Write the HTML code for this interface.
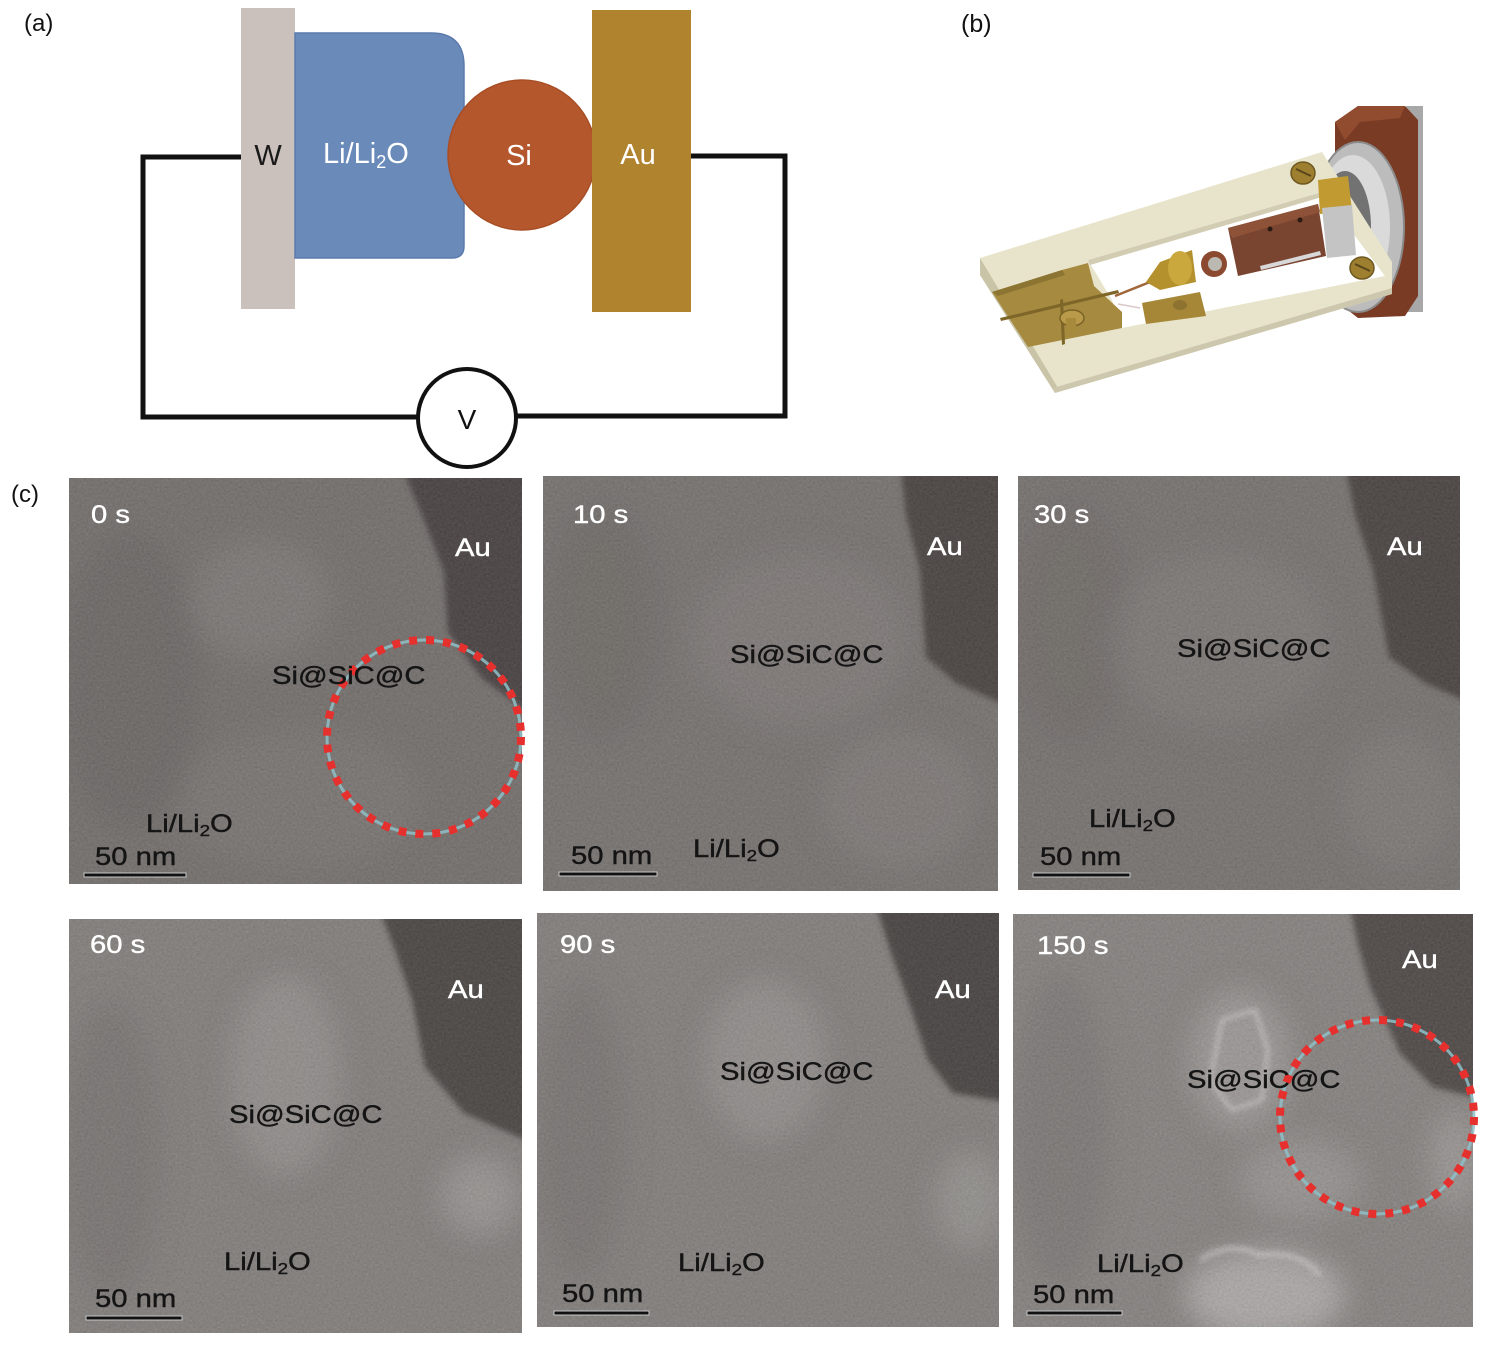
<!DOCTYPE html>
<html><head><meta charset="utf-8"><style>
html,body{margin:0;padding:0;background:#fff;}
svg{display:block;}
text{font-family:"Liberation Sans",Arial,sans-serif;}
.tw{fill:#fff;stroke:#fff;stroke-width:0.4;}
.tb{fill:#141414;stroke:#141414;stroke-width:0.4;}
</style></head><body>
<svg width="1485" height="1346" viewBox="0 0 1485 1346" xmlns="http://www.w3.org/2000/svg">
<defs>
<filter id="b3" x="-20%" y="-20%" width="140%" height="140%"><feGaussianBlur stdDeviation="3"/></filter>
<filter id="b14" x="-60%" y="-60%" width="220%" height="220%"><feGaussianBlur stdDeviation="14"/></filter>
<filter id="nz" x="0" y="0" width="100%" height="100%" color-interpolation-filters="sRGB"><feTurbulence type="fractalNoise" baseFrequency="0.45" numOctaves="3" seed="4"/><feColorMatrix type="matrix" values="0.33 0.33 0.33 0 0  0.33 0.33 0.33 0 0  0.33 0.33 0.33 0 0  0 0 0 0 0.16"/></filter>
</defs>

<!-- ===== (a) ===== -->
<text x="24" y="31" font-size="24" fill="#111">(a)</text>
<path d="M243 157 H143 V417 H420 M516 416 H785 V156 H690" fill="none" stroke="#111" stroke-width="5" stroke-linejoin="miter"/>
<rect x="241" y="8" width="54" height="301" fill="#cac0bc"/>
<path d="M295 33 H431 Q464 33 464 66 V246 Q464 258 452 258 H295 Z" fill="#6a8bba" stroke="#5a7aab" stroke-width="1.5"/>
<ellipse cx="522" cy="155" rx="74" ry="75" fill="#b4572c" stroke="#a84e26" stroke-width="1.5"/>
<rect x="592" y="10" width="99" height="302" fill="#b0832f"/>
<circle cx="467" cy="418" r="49" fill="#fff" stroke="#111" stroke-width="4"/>
<text x="268" y="165" font-size="29" fill="#1a1a1a" text-anchor="middle">W</text>
<text x="323" y="163" font-size="29" fill="#fff">Li/Li<tspan font-size="18" dy="5">2</tspan><tspan dy="-5">O</tspan></text>
<text x="519" y="165" font-size="29" fill="#fff" text-anchor="middle">Si</text>
<text x="638" y="164" font-size="29" fill="#fff" text-anchor="middle">Au</text>
<text x="467" y="429" font-size="28" fill="#111" text-anchor="middle">V</text>

<!-- ===== (b) ===== -->
<text x="961" y="32" font-size="25" fill="#111">(b)</text>
<g>
<rect x="1406" y="106" width="17" height="206" fill="#a8a8a8"/>
<polygon points="1335,122 1358,106 1405,106 1418,120 1418,296 1405,316 1358,318 1335,300" fill="#7a3b24"/>
<polygon points="1335,122 1358,106 1405,106 1400,118 1360,122 1345,140" fill="#914b2f"/>
<ellipse cx="1358" cy="227" rx="46" ry="85" fill="#bcbcbc" stroke="#8a8a8a" stroke-width="2"/>
<ellipse cx="1353" cy="227" rx="37" ry="72" fill="#dadada"/>
<ellipse cx="1345" cy="227" rx="26" ry="56" fill="#727272"/>
<polygon points="980,258 1322,152 1392,262 1392,294 1055,393 980,275" fill="#e8e4cb"/>
<polygon points="980,258 980,275 1055,393 1058,388 986,268" fill="#c9c4a8"/>
<polygon points="1055,393 1392,294 1392,288 1053,388" fill="#cdc8ad"/>
<polygon points="1088,260 1322,192 1385,276 1122,328 1112,300" fill="#ffffff"/>
<polygon points="1088,260 1322,192 1322,197 1090,265" fill="#d2cdb2"/>
<polygon points="992,292 1062,270 1088,263 1094,286 1122,312 1122,328 1028,347" fill="#a58a3f"/>
<polygon points="992,292 1062,270 1065,275 998,296" fill="#8c7432"/>
<polygon points="1000,318 1118,290 1119,293 1001,321" fill="#7d6628"/>
<polygon points="1060,300 1062,345 1065,344 1063,299" fill="#7d6628"/>
<ellipse cx="1072" cy="318" rx="12" ry="8" fill="#b89a4a" stroke="#7a6226" stroke-width="1.5"/>
<rect x="1066" y="318" width="10" height="14" fill="#a88a3c"/>
<polygon points="1142,303 1200,292 1206,316 1146,324" fill="#a68737"/>
<ellipse cx="1180" cy="305" rx="7" ry="5" fill="#8d7230"/>
<line x1="1115" y1="296" x2="1150" y2="282" stroke="#a0683a" stroke-width="2.5"/>
<line x1="1118" y1="304" x2="1140" y2="308" stroke="#d8c8c8" stroke-width="1.5"/>
<polygon points="1146,282 1160,262 1192,250 1196,282 1160,290" fill="#b5912e"/>
<ellipse cx="1180" cy="268" rx="12" ry="17" fill="#cba83e"/>
<circle cx="1214" cy="264" r="13" fill="#8b4a30"/>
<circle cx="1215" cy="264" r="7" fill="#bcb8b2"/>
<polygon points="1318,180 1348,176 1352,211 1320,214" fill="#c19b32"/>
<polygon points="1322,208 1352,205 1356,255 1327,258" fill="#c4c4c4"/>
<polygon points="1228,228 1318,204 1326,256 1238,276" fill="#7a4530"/>
<polygon points="1228,228 1318,204 1320,212 1232,238" fill="#8d5238"/>
<circle cx="1270" cy="229" r="2.5" fill="#2a1a12"/>
<circle cx="1300" cy="220" r="2.5" fill="#2a1a12"/>
<polygon points="1260,266 1320,251 1321,255 1261,270" fill="#d8d8d8"/>
<ellipse cx="1303" cy="173" rx="12" ry="11" fill="#9d7f2f" stroke="#6e5820" stroke-width="1.5"/>
<line x1="1296" y1="169" x2="1311" y2="176" stroke="#5a461a" stroke-width="2"/>
<ellipse cx="1362" cy="268" rx="12" ry="11" fill="#9d7f2f" stroke="#6e5820" stroke-width="1.5"/>
<line x1="1355" y1="264" x2="1370" y2="271" stroke="#5a461a" stroke-width="2"/>
</g>

<!-- ===== (c) ===== -->
<text x="11" y="502" font-size="24" fill="#111">(c)</text>

<!-- Panel 1 -->
<svg x="69" y="478" width="453" height="406" viewBox="69 478 453 406">
<rect x="69" y="478" width="453" height="406" fill="#76716e"/>
<g filter="url(#b14)">
<ellipse cx="130" cy="680" rx="70" ry="150" fill="#6b6664" opacity="0.7"/>
<ellipse cx="260" cy="600" rx="70" ry="60" fill="#8c8785" opacity="0.45"/>
<ellipse cx="300" cy="800" rx="120" ry="70" fill="#84807d" opacity="0.4"/>
</g>
<polygon points="403,470 530,470 530,714 482,678 448,632 444,572 424,520" fill="#474140" filter="url(#b3)"/>
<rect x="69" y="478" width="453" height="406" filter="url(#nz)"/>
</svg>
<circle cx="424" cy="737" r="97" fill="none" stroke="#8fbfc8" stroke-width="3" opacity="0.85"/>
<circle cx="424" cy="737" r="97" fill="none" stroke="#e6302d" stroke-width="8" stroke-dasharray="8 9"/>
<text class="tw" transform="translate(91,523) scale(1.17,1)" font-size="25">0 s</text>
<text class="tw" transform="translate(455,556) scale(1.17,1)" font-size="25">Au</text>
<text class="tb" transform="translate(272,684) scale(1.17,1)" font-size="25">Si@SiC@C</text>
<text class="tb" transform="translate(146,832) scale(1.17,1)" font-size="25">Li/Li<tspan font-size="16" dy="4">2</tspan><tspan dy="-4">O</tspan></text>
<text class="tb" transform="translate(95,865) scale(1.17,1)" font-size="25">50 nm</text>
<rect x="84" y="873" width="102" height="4" fill="#111" stroke="#c8c8c8" stroke-width="1"/>

<!-- Panel 2 -->
<svg x="543" y="476" width="455" height="415" viewBox="543 476 455 415">
<rect x="543" y="476" width="455" height="415" fill="#7a7572"/>
<g filter="url(#b14)">
<ellipse cx="600" cy="620" rx="60" ry="120" fill="#6e6967" opacity="0.6"/>
<ellipse cx="800" cy="640" rx="110" ry="90" fill="#8b8684" opacity="0.45"/>
<ellipse cx="900" cy="800" rx="80" ry="70" fill="#8b8785" opacity="0.45"/>
</g>
<polygon points="901,468 1005,468 1005,705 956,683 926,657 920,570 906,515" fill="#484240" filter="url(#b3)"/>
<rect x="543" y="476" width="455" height="415" filter="url(#nz)"/>
</svg>
<text class="tw" transform="translate(573,523) scale(1.17,1)" font-size="25">10 s</text>
<text class="tw" transform="translate(927,555) scale(1.17,1)" font-size="25">Au</text>
<text class="tb" transform="translate(730,663) scale(1.17,1)" font-size="25">Si@SiC@C</text>
<text class="tb" transform="translate(693,857) scale(1.17,1)" font-size="25">Li/Li<tspan font-size="16" dy="4">2</tspan><tspan dy="-4">O</tspan></text>
<text class="tb" transform="translate(571,864) scale(1.17,1)" font-size="25">50 nm</text>
<rect x="559" y="872" width="98" height="4" fill="#111" stroke="#c8c8c8" stroke-width="1"/>

<!-- Panel 3 -->
<svg x="1018" y="476" width="442" height="414" viewBox="1018 476 442 414">
<rect x="1018" y="476" width="442" height="414" fill="#7a7572"/>
<g filter="url(#b14)">
<ellipse cx="1070" cy="620" rx="60" ry="120" fill="#6f6a68" opacity="0.6"/>
<ellipse cx="1220" cy="640" rx="110" ry="90" fill="#898583" opacity="0.45"/>
<ellipse cx="1400" cy="800" rx="60" ry="70" fill="#898583" opacity="0.45"/>
</g>
<polygon points="1346,468 1468,468 1468,702 1425,683 1389,657 1373,570 1355,515" fill="#484240" filter="url(#b3)"/>
<rect x="1018" y="476" width="442" height="414" filter="url(#nz)"/>
</svg>
<text class="tw" transform="translate(1034,523) scale(1.17,1)" font-size="25">30 s</text>
<text class="tw" transform="translate(1387,555) scale(1.17,1)" font-size="25">Au</text>
<text class="tb" transform="translate(1177,657) scale(1.17,1)" font-size="25">Si@SiC@C</text>
<text class="tb" transform="translate(1089,827) scale(1.17,1)" font-size="25">Li/Li<tspan font-size="16" dy="4">2</tspan><tspan dy="-4">O</tspan></text>
<text class="tb" transform="translate(1040,865) scale(1.17,1)" font-size="25">50 nm</text>
<rect x="1033" y="873" width="97" height="4" fill="#111" stroke="#c8c8c8" stroke-width="1"/>

<!-- Panel 4 -->
<svg x="69" y="919" width="453" height="414" viewBox="69 919 453 414">
<rect x="69" y="919" width="453" height="414" fill="#86827f"/>
<g filter="url(#b14)">
<ellipse cx="110" cy="1150" rx="50" ry="150" fill="#787371" opacity="0.6"/>
<ellipse cx="285" cy="1075" rx="55" ry="100" fill="#a5a19f" opacity="0.55"/>
<ellipse cx="480" cy="1195" rx="40" ry="40" fill="#b2afad" opacity="0.5"/>
</g>
<polygon points="380,911 530,911 530,1142 464,1113 425,1067 412,1000 395,950" fill="#4a4543" filter="url(#b3)"/>
<rect x="69" y="919" width="453" height="414" filter="url(#nz)"/>
</svg>
<text class="tw" transform="translate(90,953) scale(1.17,1)" font-size="25">60 s</text>
<text class="tw" transform="translate(448,998) scale(1.17,1)" font-size="25">Au</text>
<text class="tb" transform="translate(229,1123) scale(1.17,1)" font-size="25">Si@SiC@C</text>
<text class="tb" transform="translate(224,1270) scale(1.17,1)" font-size="25">Li/Li<tspan font-size="16" dy="4">2</tspan><tspan dy="-4">O</tspan></text>
<text class="tb" transform="translate(95,1307) scale(1.17,1)" font-size="25">50 nm</text>
<rect x="86" y="1316" width="96" height="4" fill="#111" stroke="#c8c8c8" stroke-width="1"/>

<!-- Panel 5 -->
<svg x="537" y="913" width="462" height="414" viewBox="537 913 462 414">
<rect x="537" y="913" width="462" height="414" fill="#86827f"/>
<g filter="url(#b14)">
<ellipse cx="580" cy="1130" rx="45" ry="150" fill="#787371" opacity="0.6"/>
<ellipse cx="765" cy="1060" rx="60" ry="80" fill="#a5a19f" opacity="0.55"/>
<ellipse cx="970" cy="1200" rx="35" ry="50" fill="#aaa7a5" opacity="0.5"/>
</g>
<polygon points="876,905 1007,905 1007,1102 953,1093 928,1060 908,1000 890,950" fill="#474240" filter="url(#b3)"/>
<rect x="537" y="913" width="462" height="414" filter="url(#nz)"/>
</svg>
<text class="tw" transform="translate(560,953) scale(1.17,1)" font-size="25">90 s</text>
<text class="tw" transform="translate(935,998) scale(1.17,1)" font-size="25">Au</text>
<text class="tb" transform="translate(720,1080) scale(1.17,1)" font-size="25">Si@SiC@C</text>
<text class="tb" transform="translate(678,1271) scale(1.17,1)" font-size="25">Li/Li<tspan font-size="16" dy="4">2</tspan><tspan dy="-4">O</tspan></text>
<text class="tb" transform="translate(562,1302) scale(1.17,1)" font-size="25">50 nm</text>
<rect x="554" y="1311" width="95" height="4" fill="#111" stroke="#c8c8c8" stroke-width="1"/>

<!-- Panel 6 -->
<svg x="1013" y="914" width="460" height="413" viewBox="1013 914 460 413">
<rect x="1013" y="914" width="460" height="413" fill="#8a8683"/>
<g filter="url(#b14)">
<ellipse cx="1060" cy="1130" rx="50" ry="160" fill="#7a7674" opacity="0.6"/>
<ellipse cx="1240" cy="1060" rx="50" ry="70" fill="#b4b1af" opacity="0.55"/>
<ellipse cx="1265" cy="1295" rx="80" ry="45" fill="#c8c5c3" opacity="0.65"/>
<ellipse cx="1300" cy="1180" rx="60" ry="40" fill="#acA9a7" opacity="0.5"/>
<ellipse cx="1455" cy="1160" rx="25" ry="50" fill="#b5b2b0" opacity="0.5"/>
</g>
<polygon points="1350,906 1481,906 1481,1099 1433,1087 1400,1053 1370,987 1358,945" fill="#4f4846" filter="url(#b3)"/>
<path d="M1222 1020 L1255 1010 L1268 1050 L1262 1100 L1232 1110 L1210 1080 Z" fill="none" stroke="#ecebe9" stroke-width="3" opacity="0.7" filter="url(#b3)"/>
<path d="M1200 1260 Q1230 1240 1260 1255 Q1300 1250 1320 1275" fill="none" stroke="#efeeec" stroke-width="4" opacity="0.6" filter="url(#b3)"/>
<rect x="1013" y="914" width="460" height="413" filter="url(#nz)"/>
</svg>
<circle cx="1377" cy="1117" r="97" fill="none" stroke="#8fbfc8" stroke-width="3" opacity="0.85"/>
<circle cx="1377" cy="1117" r="97" fill="none" stroke="#e6302d" stroke-width="8" stroke-dasharray="8 9"/>
<text class="tw" transform="translate(1037,954) scale(1.17,1)" font-size="25">150 s</text>
<text class="tw" transform="translate(1402,968) scale(1.17,1)" font-size="25">Au</text>
<text class="tb" transform="translate(1187,1088) scale(1.17,1)" font-size="25">Si@SiC@C</text>
<text class="tb" transform="translate(1097,1272) scale(1.17,1)" font-size="25">Li/Li<tspan font-size="16" dy="4">2</tspan><tspan dy="-4">O</tspan></text>
<text class="tb" transform="translate(1033,1303) scale(1.17,1)" font-size="25">50 nm</text>
<rect x="1027" y="1311" width="95" height="4" fill="#111" stroke="#c8c8c8" stroke-width="1"/>
</svg>
</body></html>
